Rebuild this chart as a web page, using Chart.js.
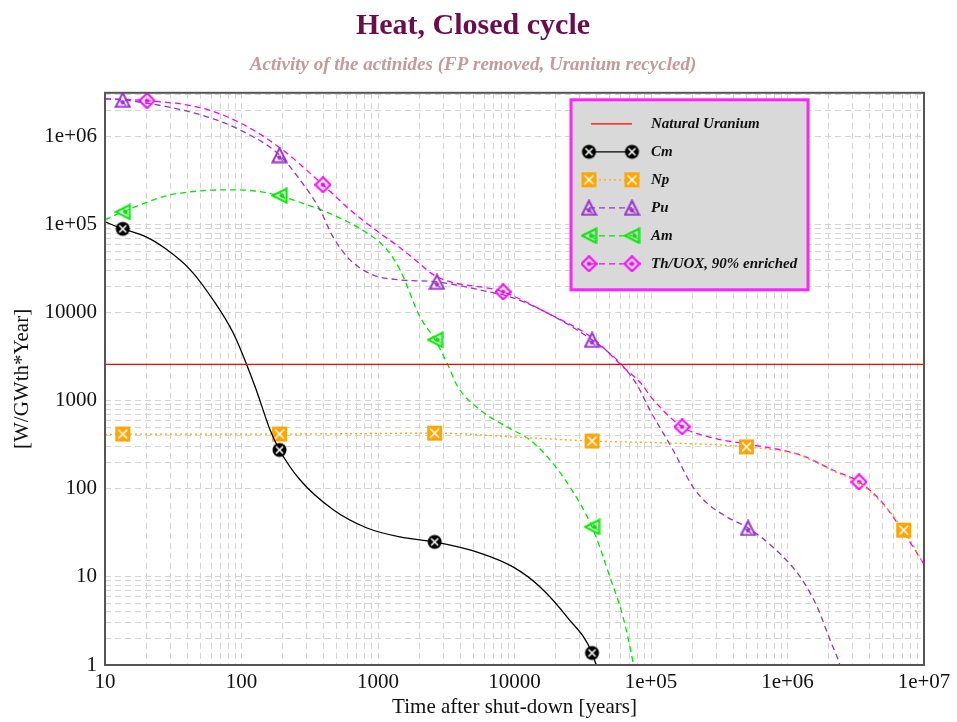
<!DOCTYPE html>
<html>
<head>
<meta charset="utf-8">
<title>Heat, Closed cycle</title>
<script src="https://cdn.jsdelivr.net/npm/chart.js@4.4.0/dist/chart.umd.min.js"></script>
<style>
  html, body { margin: 0; padding: 0; background: #fff; }
  #wrap { width: 957px; height: 722px; position: relative; }
</style>
</head>
<body>
<div id="wrap"><canvas id="heat-chart"></canvas></div>
<script>
// Axis ticks
const xTickValues = [10, 100, 1000, 1e4, 1e5, 1e6, 1e7];
const xTickLabels = ['10', '100', '1000', '10000', '1e+05', '1e+06', '1e+07'];
const yTickValues = [1, 10, 100, 1000, 1e4, 1e5, 1e6];
const yTickLabels = ['1', '10', '100', '1000', '10000', '1e+05', '1e+06'];
const yMax = 3.16e6;
// decades of the y axis that carry minor grid lines in the original
const yGridDecades = [1, 100, 1e4, 1e6];

// Natural uranium reference level
const naturalUranium = 2600;

// Cm
const cmTimes = [10, 13.5, 20, 28, 42, 62, 87, 126, 162, 190, 268, 470, 830, 1450, 2600, 5600, 9750, 15400, 24300, 37000, 45000];
const cmValues = [1.08e5, 9.0e4, 7.3e4, 5.3e4, 3.1e4, 1.4e4, 5.9e3, 1.44e3, 468, 277, 127, 58, 36, 28.5, 25, 18.7, 13, 7.7, 3.5, 1.37, 0.5];
const cmMarks = [13.5, 190, 2600, 37000];

// Np
const npTimes = [10, 13.5, 190, 2600, 13000, 37000, 130000, 500000, 1.24e6, 2.15e6, 3.3e6, 4.8e6, 7.1e6, 1e7];
const npValues = [415, 420, 420, 430, 380, 350, 333, 300, 240, 160, 118, 72, 34, 14];
const npMarks = [13.5, 190, 2600, 37000, 500000, 7.1e6];

// Pu
const puTimes = [10, 13.5, 50, 97, 190, 268, 376, 468, 624, 918, 1450, 2700, 5600, 9750, 17300, 37000, 59300, 79000, 98000, 145000, 203000, 257000, 360000, 514000, 780000, 1.24e6, 1.65e6, 2.05e6, 2.42e6, 2.8e6];
const puValues = [2.7e6, 2.63e6, 1.78e6, 1.2e6, 6.2e5, 3.25e5, 1.48e5, 7.3e4, 4.0e4, 2.7e4, 2.37e4, 2.25e4, 1.82e4, 1.48e4, 1e4, 4.93e3, 2.7e3, 1.52e3, 790, 277, 105, 69, 48, 36, 21.9, 10, 4.56, 1.92, 1.0, 0.4];
const puMarks = [13.5, 190, 2700, 37000, 514000];

// Am
const amTimes = [10, 13.5, 28.4, 50, 87, 137, 190, 302, 468, 829, 1164, 1450, 2030, 2620, 3200, 3850, 5590, 8800, 13000, 18200, 25500, 37000, 50000, 62400, 74000, 80000];
const amValues = [1.14e5, 1.4e5, 2.14e5, 2.43e5, 2.5e5, 2.38e5, 2.14e5, 1.69e5, 1.3e5, 8.1e4, 5.2e4, 3.08e4, 9.0e3, 4.93e3, 2.7e3, 1.44e3, 790, 507, 360, 214, 105, 37, 10, 3.5, 1.05, 0.5];
const amMarks = [13.5, 190, 2620, 37000];

// Th/UOX, 90% enriched
const thTimes = [10, 20.3, 50, 97.5, 191, 395, 624, 983, 1450, 1800, 2700, 8250, 17300, 37000, 62400, 87000, 98000, 169000, 284000, 560000, 1.24e6, 2.15e6, 3.34e6, 4.76e6, 6.67e6, 1e7];
const thValues = [2.7e6, 2.57e6, 2.14e6, 1.44e6, 7.5e5, 2.85e5, 1.48e5, 8.5e4, 5.5e4, 4.2e4, 2.57e4, 1.73e4, 1e4, 5.2e3, 2.43e3, 1.5e3, 1.15e3, 507, 380, 316, 243, 164, 120, 75, 37, 14];
const thMarks = [20.3, 395, 8250, 169000, 3.34e6];

const serif = "'Liberation Serif', 'Times New Roman', serif";

// Build the little marker glyphs
function makeMarker(kind, color) {
    const c = document.createElement('canvas');
    c.width = 17;
    c.height = 17;
    const g = c.getContext('2d');
    const m = 8.5;
    g.strokeStyle = color;
    g.fillStyle = color;
    g.lineWidth = 2;
    if (kind === 'circle') {
        g.beginPath();
        g.arc(m, m, 7, 0, Math.PI * 2);
        g.fill();
        g.strokeStyle = '#fff';
        g.lineWidth = 1.6;
        g.beginPath();
        g.moveTo(m - 3.5, m - 3.5); g.lineTo(m + 3.5, m + 3.5);
        g.moveTo(m + 3.5, m - 3.5); g.lineTo(m - 3.5, m + 3.5);
        g.stroke();
    } else if (kind === 'square') {
        g.fillRect(1, 1, 15, 15);
        g.strokeStyle = '#fff';
        g.lineWidth = 1.6;
        g.beginPath();
        g.moveTo(4, 4); g.lineTo(13, 13);
        g.moveTo(13, 4); g.lineTo(4, 13);
        g.stroke();
    } else if (kind === 'triangle') {
        g.beginPath();
        g.moveTo(m, 1.5); g.lineTo(15.5, 15.5); g.lineTo(1.5, 15.5);
        g.closePath();
        g.stroke();
        g.beginPath();
        g.arc(m, 11, 2.2, 0, Math.PI * 2);
        g.fill();
        g.lineWidth = 1.2;
        g.beginPath();
        g.moveTo(5, 9); g.lineTo(12, 14);
        g.stroke();
    } else if (kind === 'left') {
        g.beginPath();
        g.moveTo(1.5, m); g.lineTo(15.5, 1.5); g.lineTo(15.5, 15.5);
        g.closePath();
        g.stroke();
        g.beginPath();
        g.arc(11, m, 2.2, 0, Math.PI * 2);
        g.fill();
        g.lineWidth = 1.2;
        g.beginPath();
        g.moveTo(9, 5); g.lineTo(14, 12);
        g.stroke();
    } else if (kind === 'diamond') {
        g.beginPath();
        g.moveTo(m, 1); g.lineTo(16, m); g.lineTo(m, 16); g.lineTo(1, m);
        g.closePath();
        g.stroke();
        g.beginPath();
        g.arc(m, m, 2.2, 0, Math.PI * 2);
        g.fill();
    }
    return c;
}

function toPoints(times, values) {
    return times.map((t, i) => ({ x: t, y: values[i] }));
}

function gridValues(decades, from, to) {
    const vals = [];
    for (let d = from; d < to * 1.0001; d *= 10) {
        vals.push(d);
        if (decades === null || decades.includes(d)) {
            for (let k = 2; k <= 9; k++) {
                if (d * k <= to) vals.push(d * k);
            }
        }
    }
    return vals;
}

function labelFor(values, labels, v) {
    const i = values.findIndex(t => Math.abs(Math.log10(t) - Math.log10(v)) < 1e-6);
    return i >= 0 ? labels[i] : '';
}

const series = [
    { label: 'Cm', times: cmTimes, values: cmValues, marks: cmMarks, color: '#000000', dash: [], marker: 'circle' },
    { label: 'Np', times: npTimes, values: npValues, marks: npMarks, color: '#ffa500', dash: [2, 3], marker: 'square' },
    { label: 'Pu', times: puTimes, values: puValues, marks: puMarks, color: '#9932cc', dash: [6, 4], marker: 'triangle' },
    { label: 'Am', times: amTimes, values: amValues, marks: amMarks, color: '#00e600', dash: [6, 4], marker: 'left' },
    { label: 'Th/UOX, 90% enriched', times: thTimes, values: thValues, marks: thMarks, color: '#ff00ff', dash: [6, 4], marker: 'diamond' }
];

const datasets = [{
    label: 'Natural Uranium',
    data: [{ x: xTickValues[0], y: naturalUranium }, { x: xTickValues[xTickValues.length - 1], y: naturalUranium }],
    borderColor: '#ff0000',
    borderWidth: 1.3,
    pointRadius: 0
}];

series.forEach(s => {
    const img = makeMarker(s.marker, s.color);
    s.img = img;
    datasets.push({
        label: s.label,
        data: toPoints(s.times, s.values),
        borderColor: s.color,
        backgroundColor: s.color,
        borderWidth: 1.3,
        borderDash: s.dash,
        cubicInterpolationMode: 'monotone',
        pointStyle: img,
        pointRadius: ctx => (ctx.raw && s.marks.includes(ctx.raw.x)) ? 8 : 0
    });
});

// Frame and legend box drawn over the plot
const framePlugin = {
    id: 'frameAndLegend',
    afterDatasetsDraw(chart) {
        const { ctx, chartArea } = chart;
        ctx.save();
        ctx.strokeStyle = '#555';
        ctx.lineWidth = 2;
        ctx.strokeRect(chartArea.left, chartArea.top, chartArea.right - chartArea.left, chartArea.bottom - chartArea.top);

        // legend
        const bx = chartArea.right - 353;
        const by = chartArea.top + 7;
        ctx.fillStyle = '#d9d9d9';
        ctx.fillRect(bx, by, 237, 190);
        ctx.strokeStyle = '#ff22ff';
        ctx.lineWidth = 3;
        ctx.strokeRect(bx, by, 237, 190);

        const rows = [{ label: 'Natural Uranium', color: '#ff0000', dash: [], img: null }].concat(series);
        ctx.font = 'italic bold 15px ' + serif;
        ctx.textBaseline = 'middle';
        rows.forEach((r, i) => {
            const y = by + 24 + i * 28;
            const x1 = bx + 18, x2 = bx + 61;
            ctx.strokeStyle = r.color;
            ctx.lineWidth = 1.3;
            ctx.setLineDash(r.dash);
            ctx.beginPath();
            ctx.moveTo(x1 + (r.img ? 0 : 2), y);
            ctx.lineTo(x2, y);
            ctx.stroke();
            ctx.setLineDash([]);
            if (r.img) {
                ctx.drawImage(r.img, x1 - 8.5, y - 8.5);
                ctx.drawImage(r.img, x2 - 8.5, y - 8.5);
            }
            ctx.fillStyle = '#111';
            ctx.fillText(r.label, bx + 80, y);
        });
        ctx.restore();
    }
};

const tickFont = { family: serif, size: 21 };

const chart = new Chart(document.getElementById('heat-chart'), {
    type: 'line',
    data: { datasets },
    plugins: [framePlugin],
    options: {
        responsive: true,
        maintainAspectRatio: false,
        animation: false,
        events: [],
        layout: { padding: { left: 22, right: 33, top: 0, bottom: 0 } },
        plugins: {
            legend: { display: false },
            tooltip: { enabled: false },
            title: {
                display: true,
                text: 'Heat, Closed cycle',
                color: '#6b0d4b',
                font: { family: serif, size: 30, weight: 'bold' },
                padding: { top: 8, bottom: 0 }
            },
            subtitle: {
                display: true,
                text: 'Activity of the actinides (FP removed, Uranium recycled)',
                color: '#c49a9c',
                font: { family: serif, size: 19, weight: 'bold', style: 'italic' },
                padding: { top: 10, bottom: 16 }
            }
        },
        scales: {
            x: {
                type: 'logarithmic',
                min: xTickValues[0],
                max: xTickValues[xTickValues.length - 1],
                afterBuildTicks: scale => {
                    scale.ticks = gridValues(null, 10, 1e7).map(v => ({ value: v }));
                },
                afterFit: scale => { scale.height = 57; },
                ticks: {
                    autoSkip: false,
                    maxRotation: 0,
                    padding: 5,
                    color: '#111',
                    font: tickFont,
                    callback: v => labelFor(xTickValues, xTickLabels, v)
                },
                grid: { color: '#d4d4d4', lineWidth: 1, drawTicks: false },
                border: { display: false, dash: [6, 4] },
                title: {
                    display: true,
                    text: 'Time after shut-down [years]',
                    color: '#111',
                    font: { family: serif, size: 21 },
                    padding: { top: 0, bottom: 2 }
                }
            },
            y: {
                type: 'logarithmic',
                min: yTickValues[0],
                max: yMax,
                afterBuildTicks: scale => {
                    scale.ticks = gridValues(yGridDecades, 1, yMax).map(v => ({ value: v }));
                },
                afterFit: scale => { scale.width = 83; },
                ticks: {
                    autoSkip: false,
                    padding: 8,
                    color: '#111',
                    font: tickFont,
                    callback: v => labelFor(yTickValues, yTickLabels, v)
                },
                grid: { color: '#d4d4d4', lineWidth: 1, drawTicks: false },
                border: { display: false, dash: [6, 4] },
                title: {
                    display: true,
                    text: '[W/GWth*Year]',
                    color: '#111',
                    font: { family: serif, size: 21 },
                    padding: { top: -12, bottom: 0 }
                }
            }
        }
    }
});
</script>
</body>
</html>
